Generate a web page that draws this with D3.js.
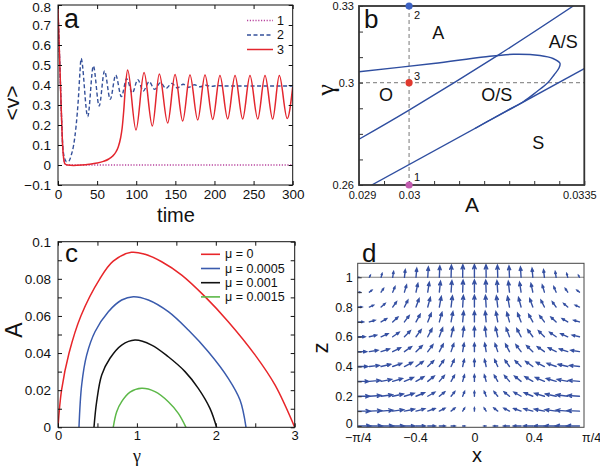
<!DOCTYPE html>
<html><head><meta charset="utf-8">
<script src="https://cdn.jsdelivr.net/npm/d3@7"></script>
<style>body{margin:0;background:#fff} svg{display:block} text{font-family:"Liberation Sans",Arial,Helvetica,sans-serif;fill:#111}</style>
</head><body><svg id="chart" width="600" height="466"></svg>
<script>
// ---------- Panel a data ----------
const aTimeTicks = [0, 50, 100, 150, 200, 250, 300];
const aValueTicks = [-0.1, 0, 0.1, 0.2, 0.3, 0.4, 0.5, 0.6, 0.7, 0.8];
const aLegend = ["1", "2", "3"];
const aSeries1 = [[0,0.78],[1.5,0.6],[3,0.42],[4.5,0.24],[6,0.09],[7.5,0.025],[9,0.004],[12,0],[300,0]];
const aSeries2 = [[0,0.78],[1.5,0.6],[3,0.42],[4.5,0.24],[6,0.1],[8,0.04],[11,0.016],[14,0.02],[17,0.05],[20,0.1],[23,0.19],[26,0.33],[28,0.46],[29.5,0.533],[38,0.242],[45.2,0.495],[52.6,0.295],[59.5,0.47],[66.8,0.328],[73.8,0.45],[81,0.342],[87.8,0.432],[95,0.36],[102,0.427],[109,0.37],[116.5,0.417],[123.5,0.378],[131,0.412],[138,0.383],[145.5,0.408],[152.5,0.385],[160,0.404],[167,0.389],[174.5,0.401],[181.5,0.391],[189,0.399],[196,0.393],[204,0.397],[215,0.395],[300,0.395]];
const aSeries3 = [[0,0.78],[1.5,0.6],[3,0.42],[4.5,0.24],[6,0.09],[7.5,0.025],[9,0.005],[12,0],[20,-0.002],[30,0],[40,0.004],[50,0.01],[58,0.018],[65,0.03],[70,0.045],[74,0.065],[77,0.09],[80,0.135],[82,0.185],[84,0.27],[86,0.38],[89,0.475],[99.7,0.175],[110,0.462],[120.6,0.195],[129.5,0.455],[140.2,0.21],[149.6,0.452],[159.4,0.22],[168.7,0.45],[178.6,0.225],[187.9,0.45],[197.8,0.228],[207,0.448],[216.9,0.23],[226.3,0.448],[236,0.23],[245.4,0.447],[255.3,0.23],[264.6,0.447],[274.4,0.23],[282.9,0.447],[293,0.232],[300,0.39]];

// ---------- Panel b data ----------
const bATicks = [0.029, 0.03, 0.0335];
const bAMinor = [0.029,0.0295,0.03,0.0305,0.031,0.0315,0.032,0.0325,0.033,0.0335];
const bGammaTicks = [0.26, 0.3, 0.33];
const bGammaMinor = [0.26,0.27,0.28,0.29,0.3,0.31,0.32,0.33];
const bLine1 = [[0.029,0.2779],[0.03,0.2893],[0.03178,0.3108],[0.03328,0.33]];
const bLine2 = [[0.029254,0.26],[0.0335,0.3055]];
const bLoop = [[0.029,0.3043],[0.030484,0.30751],[0.031483,0.31005],[0.032082,0.31111],[0.032615,0.31064],[0.032875,0.30947],[0.033014,0.30759],[0.032994,0.30575],[0.032895,0.30302],[0.032775,0.30008],[0.032549,0.29648],[0.032281,0.29257],[0.03195,0.2890],[0.031616,0.28542],[0.031317,0.28209]];
const bMarkA = 0.03, bMarkGamma = 0.3;
const bPointA = [0.03, 0.03, 0.03];
const bPointGamma = [0.26, 0.33, 0.3];
const bPointLabels = ["1", "2", "3"];
const bRegionNames = ["A", "A/S", "O", "O/S", "S"];
const bRegionA = [0.030584, 0.03308, 0.029539, 0.03175, 0.032581];
const bRegionGamma = [0.31932, 0.31604, 0.29519, 0.29519, 0.2763];

// ---------- Panel c data ----------
const cGammaTicks = [0, 1, 2, 3];
const cGammaMinor = [0,0.5,1,1.5,2,2.5,3];
const cATicks = [0, 0.02, 0.04, 0.06, 0.08, 0.1];
const cAMinor = [0,0.01,0.02,0.03,0.04,0.05,0.06,0.07,0.08,0.09,0.1];
const cLegend = ["μ = 0", "μ = 0.0005", "μ = 0.001", "μ = 0.0015"];
const cMu0 = [[0,0],[0.045,0.02],[0.14,0.04],[0.29,0.06],[0.53,0.08],[0.7,0.0895],[0.93,0.0943],[1.103,0.0932],[1.314,0.0892],[1.568,0.082],[1.863,0.0704],[2.158,0.0569],[2.497,0.039],[2.75,0.0228],[3,0]];
const cMu1 = [[0.266,0],[0.30,0.0228],[0.364,0.039],[0.469,0.0515],[0.638,0.0623],[0.807,0.0686],[0.955,0.0704],[1.145,0.0686],[1.398,0.0623],[1.652,0.0524],[1.905,0.0407],[2.158,0.0264],[2.307,0.0147],[2.383,0]];
const cMu2 = [[0.456,0],[0.49,0.0138],[0.554,0.0282],[0.659,0.0372],[0.807,0.0443],[0.976,0.047],[1.187,0.0443],[1.398,0.038],[1.61,0.03],[1.778,0.021],[1.926,0.0102],[2.01,0]];
const cMu3 = [[0.70,0],[0.744,0.0084],[0.807,0.0138],[0.913,0.0189],[1.06,0.021],[1.229,0.0192],[1.398,0.0138],[1.525,0.0075],[1.622,0]];

// ---------- Panel d data ----------
const dXTicks = [-Math.PI/4, -0.4, 0, 0.4, Math.PI/4];
const dXLabels = ["−π/4", "−0.4", "0", "0.4", "π/4"];
const dZTicks = [0, 0.2, 0.4, 0.6, 0.8, 1];
const dZMinor = [0,0.1,0.2,0.3,0.4,0.5,0.6,0.7,0.8,0.9,1];
const dColumnX = [-0.785,-0.707,-0.628,-0.550,-0.471,-0.393,-0.314,-0.236,-0.157,-0.079,0,0.079,0.157,0.236,0.314,0.393,0.471,0.550,0.628,0.707];
const dColumnHorizontal = [1,0.99,0.95,0.89,0.81,0.71,0.59,0.45,0.31,0.16,0,-0.16,-0.31,-0.45,-0.59,-0.71,-0.81,-0.89,-0.95,-0.99];
const dColumnVertical = [0,0.16,0.31,0.45,0.59,0.71,0.81,0.89,0.95,0.99,1,0.99,0.95,0.89,0.81,0.71,0.59,0.45,0.31,0.16];
const dRowZ = [0,0.1,0.2,0.3,0.4,0.5,0.6,0.7,0.8,0.9,1.0];
const dRowHorizontal = [1.0,0.95,0.92,0.85,0.77,0.67,0.56,0.45,0.33,0.2,0.08];
const dRowVertical = [0,0.25,0.38,0.5,0.55,0.65,0.77,0.82,0.9,0.93,0.97];
const dSurfaceZ = 1;

// ---------- helpers ----------
const svg = d3.select("#chart");
const defs = svg.append("defs");
const SERIF = '"Liberation Serif", "DejaVu Serif", serif';

function frame(g, x0, y0, x1, y1, color, w) {
  g.append("rect").attr("x", x0).attr("y", y0).attr("width", x1 - x0).attr("height", y1 - y0)
    .attr("fill", "none").attr("stroke", color).attr("stroke-width", w);
}
function axis(g, gen, tx, ty, fontSize, color) {
  const a = g.append("g").attr("transform", `translate(${tx},${ty})`).call(gen);
  a.select(".domain").remove();
  a.selectAll(".tick line").attr("stroke", color || "#111");
  a.selectAll("text").style("font-size", fontSize + "px").attr("fill", "#222")
    .style("font-family", '"Liberation Sans", Arial, sans-serif');
  return a;
}
function clip(id, x0, y0, x1, y1) {
  defs.append("clipPath").attr("id", id).append("rect")
    .attr("x", x0).attr("y", y0).attr("width", x1 - x0).attr("height", y1 - y0);
}
function panelLabel(t, x, y, size) {
  svg.append("text").attr("x", x).attr("y", y).text(t).style("font-size", size + "px");
}
function rotLabel(t, x, y, size, family) {
  const s = svg.append("text").attr("transform", `translate(${x},${y}) rotate(-90)`).attr("text-anchor", "middle")
    .attr("dominant-baseline", "central").text(t).style("font-size", size + "px");
  if (family) s.style("font-family", family);
}
function hLabel(t, x, y, size, family) {
  const s = svg.append("text").attr("x", x).attr("y", y).attr("text-anchor", "middle").text(t).style("font-size", size + "px");
  if (family) s.style("font-family", family);
}

// ================= Panel a =================
{
  const L = 58, R = 292.7, T = 5, B = 185;
  const x = d3.scaleLinear().domain([0, 300]).range([L, R]);
  const y = d3.scaleLinear().domain([-0.1, 0.8]).range([B, T]);
  const g = svg.append("g");
  clip("clipA", L, T, R, B);
  const line = d3.line().x(d => x(d[0])).y(d => y(d[1])).curve(d3.curveMonotoneX);
  const pg = g.append("g").attr("clip-path", "url(#clipA)");
  pg.append("path").attr("d", line(aSeries1)).attr("fill", "none").attr("stroke", "#b8449e").attr("stroke-width", 1.4).attr("stroke-dasharray", "1.2,1.6");
  pg.append("path").attr("d", line(aSeries2)).attr("fill", "none").attr("stroke", "#34509a").attr("stroke-width", 1.4).attr("stroke-dasharray", "4,2.5");
  pg.append("path").attr("d", line(aSeries3)).attr("fill", "none").attr("stroke", "#e3262e").attr("stroke-width", 1.5);
  const fmt = d => d === 0 ? "0" : d3.format(".1f")(d);
  const ya = axis(g, d3.axisLeft(y).tickValues(aValueTicks).tickSize(-4).tickPadding(7).tickFormat(fmt), L, 0, 13.5);
  ya.selectAll(".tick text").filter(d => d === 0.8).attr("dy", "0.5em");
  axis(g, d3.axisRight(y).tickValues(aValueTicks).tickSize(-4).tickFormat(""), R, 0, 13.5);
  axis(g, d3.axisBottom(x).tickValues(aTimeTicks).tickSize(-4).tickPadding(4), 0, B, 13.5);
  axis(g, d3.axisTop(x).tickValues(aTimeTicks).tickSize(-4).tickFormat(""), 0, T, 13.5);
  frame(g, L, T, R, B, "#111", 1);
  const styles = [["#b8449e", "1.2,1.6", 1.4], ["#34509a", "4,2.5", 1.4], ["#e3262e", null, 1.5]];
  const ly = [20.5, 35.0, 49.5];
  aLegend.forEach((t, i) => {
    g.append("line").attr("x1", 247).attr("x2", 273).attr("y1", ly[i]).attr("y2", ly[i])
      .attr("stroke", styles[i][0]).attr("stroke-width", styles[i][2]).attr("stroke-dasharray", styles[i][1]);
    g.append("text").attr("x", 277).attr("y", ly[i]).attr("dominant-baseline", "central").text(t).style("font-size", "12.5px");
  });
  panelLabel("a", 64, 28, 27);
  rotLabel("<v>", 11, 103, 21);
  hLabel("time", 176, 222, 20);
}

// ================= Panel b =================
{
  const L = 359, R = 584.3, T = 6, B = 185;
  const x = d3.scaleLinear().domain([0.029, 0.0335]).range([L, R]);
  const y = d3.scaleLinear().domain([0.26, 0.33]).range([B, T]);
  const g = svg.append("g");
  clip("clipB", L, T, R, B);
  const pg = g.append("g").attr("clip-path", "url(#clipB)");
  pg.append("line").attr("x1", x(bMarkA)).attr("x2", x(bMarkA)).attr("y1", T).attr("y2", B)
    .attr("stroke", "#777").attr("stroke-width", 1).attr("stroke-dasharray", "4,3");
  pg.append("line").attr("x1", L).attr("x2", R).attr("y1", y(bMarkGamma)).attr("y2", y(bMarkGamma))
    .attr("stroke", "#777").attr("stroke-width", 1).attr("stroke-dasharray", "4,3");
  const line = d3.line().x(d => x(d[0])).y(d => y(d[1])).curve(d3.curveCatmullRom.alpha(0.5));
  [bLine1, bLine2, bLoop].forEach(s => pg.append("path").attr("d", line(s)).attr("fill", "none")
    .attr("stroke", "#2f4ea0").attr("stroke-width", 1.4));
  axis(g, d3.axisLeft(y).tickValues(bGammaMinor).tickSize(-4).tickFormat(""), L, 0, 11, "#333");
  axis(g, d3.axisLeft(y).tickValues(bGammaTicks).tickSize(0).tickPadding(5).tickFormat(d => String(d)), L, 0, 11, "#333");
  axis(g, d3.axisBottom(x).tickValues(bAMinor).tickSize(-4).tickFormat(""), 0, B, 11, "#333");
  const xb = axis(g, d3.axisBottom(x).tickValues(bATicks).tickSize(0).tickPadding(6).tickFormat(d => String(d)), 0, B, 11, "#333");
  xb.selectAll(".tick text").filter(d => d === 0.0335).attr("dx", -5);
  xb.selectAll(".tick text").filter(d => d === 0.029).attr("dx", 3);
  frame(g, L, T, R, B, "#333", 1.8);
  const pColors = ["#c35cb0", "#3d62c4", "#e0392e"];
  bPointA.forEach((a, i) => {
    g.append("circle").attr("cx", x(a)).attr("cy", y(bPointGamma[i])).attr("r", 3.6).attr("fill", pColors[i]);
  });
  g.append("text").attr("x", x(bPointA[0]) + 5).attr("y", y(bPointGamma[0]) - 4).text(bPointLabels[0]).style("font-size", "11px");
  g.append("text").attr("x", x(bPointA[1]) + 5).attr("y", y(bPointGamma[1]) + 13).text(bPointLabels[1]).style("font-size", "11px");
  g.append("text").attr("x", x(bPointA[2]) + 5).attr("y", y(bPointGamma[2]) - 3).text(bPointLabels[2]).style("font-size", "11px");
  bRegionNames.forEach((t, i) => {
    g.append("text").attr("x", x(bRegionA[i])).attr("y", y(bRegionGamma[i])).attr("text-anchor", "middle")
      .attr("dominant-baseline", "central").text(t).style("font-size", "18px");
  });
  panelLabel("b", 364, 28, 26);
  rotLabel("γ", 325, 90, 26, SERIF);
  hLabel("A", 472, 212, 21);
}

// ================= Panel c =================
{
  const L = 58, R = 294.7, T = 241.7, B = 427.3;
  const x = d3.scaleLinear().domain([0, 3]).range([L, R]);
  const y = d3.scaleLinear().domain([0, 0.1]).range([B, T]);
  const g = svg.append("g");
  clip("clipC", L, T, R, B);
  const pg = g.append("g").attr("clip-path", "url(#clipC)");
  const line = d3.line().x(d => x(d[0])).y(d => y(d[1])).curve(d3.curveCatmullRom.alpha(0.5));
  const colors = ["#e8262a", "#3a5bad", "#111111", "#5cb848"];
  [cMu0, cMu1, cMu2, cMu3].forEach((s, i) => pg.append("path").attr("d", line(s)).attr("fill", "none")
    .attr("stroke", colors[i]).attr("stroke-width", 1.5));
  axis(g, d3.axisLeft(y).tickValues(cAMinor).tickSize(-4).tickFormat(""), L, 0, 13.5);
  axis(g, d3.axisLeft(y).tickValues(cATicks).tickSize(0).tickPadding(7).tickFormat(d => String(d)), L, 0, 13.5);
  axis(g, d3.axisRight(y).tickValues(cAMinor).tickSize(-4).tickFormat(""), R, 0, 13.5);
  axis(g, d3.axisBottom(x).tickValues(cGammaMinor).tickSize(-4).tickFormat(""), 0, B, 13);
  axis(g, d3.axisBottom(x).tickValues(cGammaTicks).tickSize(0).tickPadding(3).tickFormat(d => String(d)), 0, B, 13);
  axis(g, d3.axisTop(x).tickValues(cGammaMinor).tickSize(-4).tickFormat(""), 0, T, 13.5);
  frame(g, L, T, R, B, "#111", 1);
  const ly = [254.3, 268.5, 282.7, 296.9];
  cLegend.forEach((t, i) => {
    g.append("line").attr("x1", 201).attr("x2", 220).attr("y1", ly[i]).attr("y2", ly[i])
      .attr("stroke", colors[i]).attr("stroke-width", 1.6);
    g.append("text").attr("x", 225).attr("y", ly[i]).attr("dominant-baseline", "central").text(t).style("font-size", "12.5px");
  });
  panelLabel("c", 65, 262, 26);
  rotLabel("A", 14, 330, 23);
  hLabel("γ", 137, 461.5, 18, SERIF);
}

// ================= Panel d =================
{
  const L = 357.7, R = 584, T = 263.3, B = 427.3;
  const x = d3.scaleLinear().domain([-Math.PI/4, Math.PI/4]).range([L, L + (Math.PI/2) * 148.6]);
  const y = d3.scaleLinear().domain([0, 1]).range([426, 277.3]);
  const len = d3.scaleLinear().domain([0, 1]).range([0, 13]);
  const g = svg.append("g");
  clip("clipD", L, T, R, B);
  const pg = g.append("g").attr("clip-path", "url(#clipD)");
  pg.append("line").attr("x1", L).attr("x2", R).attr("y1", y(dSurfaceZ)).attr("y2", y(dSurfaceZ))
    .attr("stroke", "#808080").attr("stroke-width", 1.1);
  const arrows = [];
  dRowZ.forEach((z, i) => dColumnX.forEach((xx, j) => {
    arrows.push({x: xx, z: z, u: dColumnHorizontal[j] * dRowHorizontal[i], w: dColumnVertical[j] * dRowVertical[i]});
  }));
  const pathFor = d => {
    const bx = x(d.x), by = y(d.z);
    const dx = len(d.u), dy = -len(d.w);
    const m = Math.hypot(dx, dy);
    if (m < 0.3) return "";
    const tx = bx + dx, ty = by + dy;
    const ang = Math.atan2(dy, dx);
    const h = Math.min(0.36 * m, 4.5), a = 0.4;
    const h1x = tx - h * Math.cos(ang - a), h1y = ty - h * Math.sin(ang - a);
    const h2x = tx - h * Math.cos(ang + a), h2y = ty - h * Math.sin(ang + a);
    return `M${bx},${by}L${tx},${ty}M${h1x},${h1y}L${tx},${ty}L${h2x},${h2y}`;
  };
  pg.selectAll("path.arrow").data(arrows).join("path").attr("class", "arrow").attr("d", pathFor)
    .attr("fill", "none").attr("stroke", "#3550a2").attr("stroke-width", 1.4).attr("stroke-linecap", "round");
  axis(g, d3.axisLeft(y).tickValues(dZMinor).tickSize(-4).tickFormat(""), L, 0, 12.5, "#333");
  const yd = axis(g, d3.axisLeft(y).tickValues(dZTicks).tickSize(0).tickPadding(5).tickFormat(d => String(d)), L, 0, 12.5);
  yd.selectAll(".tick text").filter(d => d === 0).attr("dy", "0.1em");
  axis(g, d3.axisBottom(x).tickValues(dXTicks).tickSize(0).tickPadding(6).tickFormat((d, i) => dXLabels[i]), 0, B, 12.5);
  frame(g, L, T, R, B, "#444", 1);
  panelLabel("d", 362, 262, 26);
  rotLabel("z", 320, 348, 22);
  hLabel("x", 477, 462, 20);
}
</script></body></html>
